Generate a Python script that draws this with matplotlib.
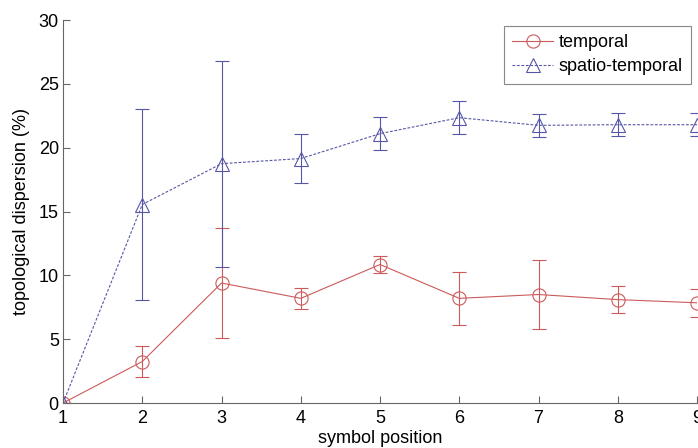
import numpy as np
import matplotlib
matplotlib.use("Agg")
import matplotlib.pyplot as plt

plt.rcParams['font.family'] = ['Liberation Sans', 'DejaVu Sans']

# symbol positions
pos = [1, 2, 3, 4, 5, 6, 7, 8, 9]

# temporal: mean and error
temporal = [0, 3.25, 9.4, 8.2, 10.85, 8.2, 8.5, 8.1, 7.85]
temporal_err = [0, 1.2, 4.3, 0.83, 0.7, 2.06, 2.7, 1.07, 1.1]

# spatio-temporal
spatio = [0, 15.55, 18.75, 19.15, 21.1, 22.35, 21.75, 21.8, 21.8]
spatio_err = [0, 7.45, 8.07, 1.95, 1.3, 1.3, 0.9, 0.9, 0.9]

red = '#cc5a5a'
blue = '#5656a6'

fig = plt.figure(figsize=(6.98, 4.48), dpi=100)
ax = fig.add_axes([0.0903, 0.1004, 0.9083, 0.8549])

ax.errorbar(pos, temporal, yerr=temporal_err, color=red, ecolor=red,
            marker='o', markersize=9.5, markerfacecolor='none',
            markeredgecolor=red, markeredgewidth=0.8, linewidth=0.8,
            elinewidth=0.8, capsize=4.7, capthick=0.8, label='temporal')
ax.errorbar(pos, spatio, yerr=spatio_err, color=blue, ecolor=blue,
            marker='^', markersize=10, markerfacecolor='none',
            markeredgecolor=blue, markeredgewidth=0.8, linewidth=0.8,
            linestyle=(0, (2.5, 1.5)), elinewidth=0.8, capsize=4.7,
            capthick=0.8, label='spatio-temporal')

ax.set_xlim(1, 9)
ax.set_ylim(0, 30)
ax.set_xticks(pos)
ax.set_yticks([0, 5, 10, 15, 20, 25, 30])

for s in ['top', 'right']:
    ax.spines[s].set_visible(False)
for s in ['left', 'bottom']:
    ax.spines[s].set_color('#666666')
    ax.spines[s].set_linewidth(0.8)

ax.tick_params(direction='in', length=5, width=0.8, color='#666666',
               labelsize=13)
ax.tick_params(axis='x', pad=5)
ax.tick_params(axis='y', pad=3)

ax.set_xlabel('symbol position', fontsize=13, labelpad=2.5)
ax.set_ylabel('topological dispersion (%)', fontsize=13, labelpad=6)

# legend shows line + marker only
handles, labels = ax.get_legend_handles_labels()
handles = [h[0] for h in handles]
leg = ax.legend(handles, labels, loc='upper right',
                bbox_to_anchor=(0.9905, 0.9843), borderaxespad=0,
                fontsize=13, frameon=True, fancybox=False, framealpha=1,
                borderpad=0.45, labelspacing=0.4, handlelength=2.3,
                handletextpad=0.3)
leg.get_frame().set_edgecolor('#888888')
leg.get_frame().set_linewidth(0.8)

fig.savefig('out.png', dpi=100)
